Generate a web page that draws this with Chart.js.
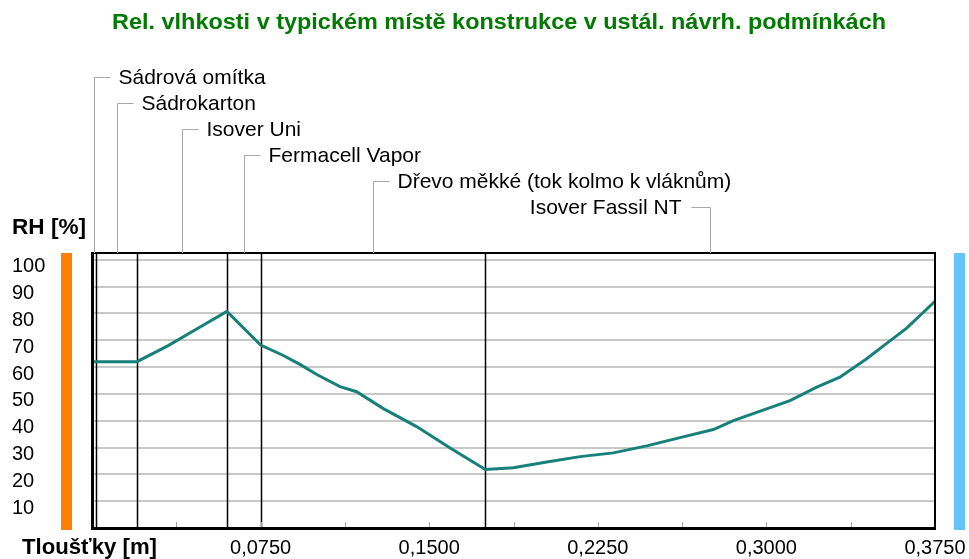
<!DOCTYPE html>
<html>
<head>
<meta charset="utf-8">
<script src="https://cdn.jsdelivr.net/npm/chart.js@4/dist/chart.umd.min.js"></script>
<style>
  html, body { margin: 0; padding: 0; background: #ffffff; }
  #wrap { width: 969px; height: 559px; position: relative; }
</style>
</head>
<body>
<div id="wrap"><canvas id="c" width="969" height="559"></canvas></div>
<script>
// ---- data ----
const chartTitle = 'Rel. vlhkosti v typickém místě konstrukce v ustál. návrh. podmínkách';
const yAxisTitle = 'RH [%]';
const xAxisTitle = 'Tloušťky [m]';

const thickness = [0, 0.02, 0.0339, 0.0458, 0.06, 0.075, 0.0851, 0.0925, 0.1, 0.1103, 0.1177, 0.1296, 0.1444, 0.1593, 0.175,
  0.1874, 0.2023, 0.2171, 0.2319, 0.2468, 0.2616, 0.2764, 0.2853, 0.3001, 0.3105, 0.3224, 0.3327, 0.3446, 0.3535, 0.3624, 0.375];
const rh = [62, 62, 68, 73.8, 80.7, 68.2, 64.3, 61, 57.2, 52.7, 50.8, 44.5, 37.8, 29.8, 21.8,
  22.5, 24.6, 26.6, 28, 30.6, 33.7, 36.7, 40, 44.4, 47.5, 52.5, 56.2, 63.1, 68.8, 74.5, 84.5];

const layerNames = ['Sádrová omítka', 'Sádrokarton', 'Isover Uni', 'Fermacell Vapor', 'Dřevo měkké (tok kolmo k vláknům)', 'Isover Fassil NT'];
const layerBounds = [0, 0.002, 0.02, 0.06, 0.075, 0.175, 0.375];

const xTickValues = [0.075, 0.15, 0.225, 0.3, 0.375];
const xTickLabels = ['0,0750', '0,1500', '0,2250', '0,3000', '0,3750'];
const xMinorStep = 0.0375;
const yTickValues = [10, 20, 30, 40, 50, 60, 70, 80, 90, 100];
const yTickLabels = ['10', '20', '30', '40', '50', '60', '70', '80', '90', '100'];

// ---- drawing ----
const FONT = '"Liberation Sans", Arial, sans-serif';

function fitText(ctx, text, x, y, width, align) {
  const w = ctx.measureText(text).width;
  const k = width / w;
  ctx.save();
  ctx.translate(x, y);
  ctx.scale(k, 1);
  ctx.textAlign = align || 'left';
  ctx.fillText(text, 0, 0);
  ctx.restore();
}

const decor = {
  id: 'decor',
  beforeDatasetsDraw(chart) {
    const { ctx, chartArea: a, scales: { x } } = chart;
    ctx.save();
    ctx.strokeStyle = '#000';
    ctx.lineWidth = 1.5;
    for (let i = 1; i < layerBounds.length - 1; i++) {
      const px = Math.round(x.getPixelForValue(layerBounds[i])) + 0.5;
      ctx.beginPath(); ctx.moveTo(px, a.top); ctx.lineTo(px, a.bottom); ctx.stroke();
    }
    ctx.strokeStyle = '#a0a0a0';
    ctx.lineWidth = 1;
    for (let v = xMinorStep; v < x.max - 1e-9; v += xMinorStep) {
      const px = Math.round(x.getPixelForValue(v)) + 0.5;
      ctx.beginPath(); ctx.moveTo(px, a.bottom); ctx.lineTo(px, a.bottom - 6); ctx.stroke();
    }
    ctx.restore();
  },
  afterDraw(chart) {
    const { ctx, chartArea: a, scales: { x } } = chart;
    ctx.save();
    ctx.strokeStyle = '#000';
    ctx.lineWidth = 2;
    ctx.strokeRect(a.left, a.top, a.right - a.left, a.bottom - a.top);
    ctx.fillStyle = '#000';
    ctx.fillRect(a.left - 1, a.top - 1, 3, a.bottom - a.top + 2);
    ctx.fillRect(a.left - 1, a.bottom - 1, a.right - a.left + 2, 3);

    ctx.fillStyle = '#ff8000';
    ctx.fillRect(a.left - 31, a.top, 11, a.bottom - a.top + 2);
    ctx.fillStyle = '#66c4fa';
    ctx.fillRect(a.right + 19, a.top, 11, a.bottom - a.top + 2);

    ctx.textBaseline = 'middle';
    ctx.fillStyle = '#007a00';
    ctx.font = 'bold 22px ' + FONT;
    fitText(ctx, chartTitle, 112, 23, 774);

    ctx.fillStyle = '#000';
    ctx.font = 'bold 22px ' + FONT;
    fitText(ctx, yAxisTitle, 12, 228, 74);
    fitText(ctx, xAxisTitle, 22, 548, 135);

    ctx.font = '21px ' + FONT;
    const n = layerNames.length;
    for (let i = 0; i < n; i++) {
      const mid = (layerBounds[i] + layerBounds[i + 1]) / 2;
      const px = Math.round(x.getPixelForValue(mid)) + 0.5;
      const ly = Math.round(a.top - 176 + i * 26) + 0.5;
      ctx.strokeStyle = '#a8a8a8';
      ctx.lineWidth = 1;
      ctx.beginPath();
      ctx.moveTo(px, a.top);
      ctx.lineTo(px, ly);
      ctx.fillStyle = '#000';
      if (i < n - 1) {
        ctx.lineTo(px + 16, ly);
        ctx.stroke();
        ctx.textAlign = 'left';
        ctx.fillText(layerNames[i], px + 24, ly + 1);
      } else {
        ctx.lineTo(px - 19, ly);
        ctx.stroke();
        ctx.textAlign = 'right';
        ctx.fillText(layerNames[i], px - 29, ly + 1);
      }
    }
    ctx.restore();
  }
};

const points = thickness.map((t, i) => ({ x: t, y: rh[i] }));

new Chart(document.getElementById('c'), {
  type: 'line',
  data: {
    datasets: [{
      data: points,
      borderColor: '#17807a',
      borderWidth: 3,
      pointRadius: 0,
      tension: 0,
      fill: false
    }]
  },
  options: {
    responsive: false,
    animation: false,
    layout: { padding: { top: 253, left: 12, right: 34, bottom: 0 } },
    plugins: { legend: { display: false }, tooltip: { enabled: false }, title: { display: false } },
    scales: {
      x: {
        type: 'linear',
        min: 0,
        max: 0.375,
        afterFit: (s) => { s.height = 31; s.paddingLeft = 0; s.paddingRight = 0; },
        afterBuildTicks: (s) => { s.ticks = [0].concat(xTickValues).map(v => ({ value: v })); },
        grid: { display: false, drawTicks: false },
        border: { display: false },
        ticks: {
          padding: 8,
          autoSkip: false,
          maxRotation: 0,
          color: '#000',
          font: { family: FONT, size: 20 },
          callback: (v) => {
            const k = xTickValues.findIndex(t => Math.abs(t - v) < 1e-9);
            return k >= 0 ? xTickLabels[k] : '';
          }
        }
      },
      y: {
        min: 0,
        max: 102.5,
        afterFit: (s) => { s.width = 80; s.paddingTop = 0; s.paddingBottom = 0; },
        afterBuildTicks: (s) => { s.ticks = [0].concat(yTickValues).map(v => ({ value: v })); },
        grid: {
          drawTicks: false,
          lineWidth: 2,
          color: (c) => (c.tick && c.tick.value === 0) ? 'rgba(0,0,0,0)' : '#c8c8c8'
        },
        border: { display: false },
        ticks: {
          crossAlign: 'far',
          labelOffset: 7,
          color: '#000',
          font: { family: FONT, size: 20 },
          callback: (v) => {
            const k = yTickValues.indexOf(v);
            return k >= 0 ? yTickLabels[k] : '';
          }
        }
      }
    }
  },
  plugins: [decor]
});
</script>
</body>
</html>
